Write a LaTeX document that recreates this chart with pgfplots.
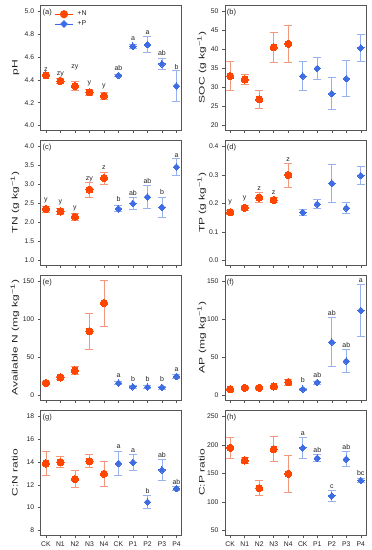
\documentclass[border=0pt]{standalone}
\usepackage{fontspec}
\setmainfont{Liberation Sans}
\usepackage{graphicx}
\usepackage{pgfplots}
\pgfplotsset{compat=1.18}
\definecolor{nred}{HTML}{FF4500}
\definecolor{nerrc}{HTML}{F5977A}
\definecolor{pblue}{HTML}{3D6CE5}
\definecolor{perrc}{HTML}{98B2F0}
\definecolor{axc}{HTML}{555555}
\definecolor{txt}{HTML}{222222}
\newcommand{\tickfont}{\fontsize{6.8}{8}\selectfont}
\newcommand{\labfont}{\fontsize{8}{9.6}\selectfont}
\newcommand{\letfont}{\fontsize{7}{8.4}\selectfont}
\newcommand{\panfont}{\fontsize{7.5}{9}\selectfont}
\newcommand{\yl}[1]{\scalebox{1.5}[1]{#1}}
\pgfplotsset{
  panel/.style={
    width=141pt, height=125pt, scale only axis, anchor=south west,
    xmin=-0.36, xmax=9.36, xtick={0,...,9}, xticklabels={},
    axis line style={axc, line width=0.5pt},
    tick style={axc, line width=0.5pt},
    tick align=outside, major tick length=3pt,
    xtick pos=left, ytick pos=left,
    tick label style={font=\tickfont, text=txt},
    /pgf/number format/assume math mode=true,
    clip=false,
  },
  leftcol/.style={ylabel style={at={(axis description cs:-0.163,0.5)}, rotate=0, anchor=base, font=\labfont, text=txt}},
  rightcol/.style={ylabel style={at={(axis description cs:-0.145,0.5)}, rotate=0, anchor=base, font=\labfont, text=txt}},
  dec1/.style={yticklabel style={/pgf/number format/.cd, fixed, fixed zerofill, precision=1}},
  nerr/.style={only marks, mark=none, forget plot, error bars/.cd, y dir=both, y explicit,
    error bar style={draw=nerrc, line width=0.8pt},
    error mark options={rotate=90, draw=nerrc, mark size=4pt, line width=0.8pt}},
  perr/.style={only marks, mark=none, forget plot, error bars/.cd, y dir=both, y explicit,
    error bar style={draw=perrc, line width=0.8pt},
    error mark options={rotate=90, draw=perrc, mark size=4pt, line width=0.8pt}},
  nmark/.style={only marks, forget plot, mark=*, mark size=3.6pt, mark options={draw=nred, fill=nred, line width=0pt}},
  pmark/.style={only marks, forget plot, mark=square*, mark size=2.3pt, mark options={rotate=45, draw=pblue, fill=pblue, line width=0pt}},
  letters/.style={only marks, mark=none, forget plot, nodes near coords, point meta=explicit symbolic,
    every node near coord/.append style={font=\letfont, text=txt, inner sep=0pt, text depth=0pt}},
}
\newcommand{\plab}[1]{\node[anchor=north west, font=\panfont, text=txt, inner sep=0pt] at (axis description cs:0.012,0.972) {#1};}
\begin{document}
\begin{tikzpicture}
\useasboundingbox (0,0) rectangle (372pt,550pt);
% (a) pH
\begin{axis}[panel, leftcol, dec1, at={(40.7pt,420pt)}, ymin=3.96, ymax=5.057, ytick={4.0,4.2,...,5.01}, ylabel={\yl{pH}},
  legend style={at={(axis description cs:0.1,0.965)}, anchor=north west, draw=none, fill=none, font=\letfont, text=txt, inner sep=0pt, row sep=0.5pt, nodes={inner sep=1.5pt}},
  legend cell align=left]
\addlegendimage{nred, line width=0.9pt, mark=*, mark size=3.6pt, mark options={fill=nred, draw=nred}}
\addlegendentry{\hspace{3pt}+N}
\addlegendimage{pblue, line width=0.9pt, mark=square*, mark size=2.3pt, mark options={rotate=45, fill=pblue, draw=pblue}}
\addlegendentry{\hspace{3pt}+P}
\addplot[nerr] table[x=x, y=y, y error=e] {
x y e
0 4.44 0.012
1 4.39 0.02
2 4.346 0.04
3 4.29 0.03
4 4.26 0.03
};
\addplot[nmark] table[x=x, y=y] {
x y
0 4.44
1 4.39
2 4.346
3 4.29
4 4.26
};
\addplot[perr] table[x=x, y=y, y error=e] {
x y e
5 4.44 0.012
6 4.695 0.015
7 4.71 0.07
8 4.54 0.05
9 4.346 0.135
};
\addplot[pmark] table[x=x, y=y] {
x y
5 4.44
6 4.695
7 4.71
8 4.54
9 4.346
};
\addplot[letters] table[x=x, y=y, meta=l] {
x y l
0 4.475 z
1 4.44 zy
2 4.496 zy
3 4.355 y
4 4.334 y
5 4.48 ab
6 4.74 a
7 4.80 a
8 4.613 ab
9 4.49 b
};
\plab{(a)}
\end{axis}
% (b) SOC
\begin{axis}[panel, rightcol, at={(225pt,420pt)}, ymin=18.8, ymax=51.71, ytick={20,25,...,50}, ylabel={\yl{SOC (g kg\textsuperscript{−1})}}]
\addplot[nerr] table[x=x, y=y, y error=e] {
x y e
0 33.0 3.8
1 32.1 1.3
2 26.9 2.4
3 40.6 4.0
4 41.5 4.9
};
\addplot[nmark] table[x=x, y=y] {
x y
0 33.0
1 32.1
2 26.9
3 40.6
4 41.5
};
\addplot[perr] table[x=x, y=y, y error=e] {
x y e
5 33.0 3.8
6 35.0 2.85
7 28.4 4.2
8 32.3 4.7
9 40.4 3.6
};
\addplot[pmark] table[x=x, y=y] {
x y
5 33.0
6 35.0
7 28.4
8 32.3
9 40.4
};
\plab{(b)}
\end{axis}
% (c) TN
\begin{axis}[panel, leftcol, dec1, at={(40.7pt,285pt)}, ymin=0.88, ymax=4.171, ytick={1.0,1.5,...,4.01}, ylabel={\yl{TN (g kg\textsuperscript{−1})}}]
\addplot[nerr] table[x=x, y=y, y error=e] {
x y e
0 2.355 0.08
1 2.29 0.08
2 2.15 0.1
3 2.865 0.2
4 3.17 0.155
};
\addplot[nmark] table[x=x, y=y] {
x y
0 2.355
1 2.29
2 2.15
3 2.865
4 3.17
};
\addplot[perr] table[x=x, y=y, y error=e] {
x y e
5 2.36 0.08
6 2.50 0.15
7 2.67 0.3
8 2.40 0.27
9 3.46 0.225
};
\addplot[pmark] table[x=x, y=y] {
x y
5 2.36
6 2.50
7 2.67
8 2.40
9 3.46
};
\addplot[letters] table[x=x, y=y, meta=l] {
x y l
0 2.548 y
1 2.50 y
2 2.337 y
3 3.10 zy
4 3.384 z
5 2.548 b
6 2.698 ab
7 3.015 ab
8 2.72 b
9 3.718 a
};
\plab{(c)}
\end{axis}
% (d) TP
\begin{axis}[panel, rightcol, dec1, at={(225pt,285pt)}, ymin=-0.016, ymax=0.4228, ytick={0,0.1,...,0.41}, ylabel={\yl{TP (g kg\textsuperscript{−1})}}]
\addplot[nerr] table[x=x, y=y, y error=e] {
x y e
0 0.169 0.008
1 0.185 0.008
2 0.2205 0.018
3 0.212 0.008
4 0.30 0.042
};
\addplot[nmark] table[x=x, y=y] {
x y
0 0.169
1 0.185
2 0.2205
3 0.212
4 0.30
};
\addplot[perr] table[x=x, y=y, y error=e] {
x y e
5 0.169 0.01
6 0.198 0.017
7 0.271 0.067
8 0.184 0.02
9 0.298 0.032
};
\addplot[pmark] table[x=x, y=y] {
x y
5 0.169
6 0.198
7 0.271
8 0.184
9 0.298
};
\addplot[letters] table[x=x, y=y, meta=l] {
x y l
0 0.1994 y
1 0.212 y
2 0.2463 z
3 0.23 z
4 0.347 z
};
\plab{(d)}
\end{axis}
% (e) Available N
\begin{axis}[panel, leftcol, at={(40.7pt,150pt)}, ymin=-6, ymax=158.55, ytick={0,50,100,150}, ylabel={\yl{Available N (mg kg\textsuperscript{−1})}}]
\addplot[nerr] table[x=x, y=y, y error=e] {
x y e
0 16.2 2
1 23.7 2
2 32.9 5.5
3 84.6 23.7
4 121.5 30
};
\addplot[nmark] table[x=x, y=y] {
x y
0 16.2
1 23.7
2 32.9
3 84.6
4 121.5
};
\addplot[perr] table[x=x, y=y, y error=e] {
x y e
5 16.2 2
6 11.4 2
7 11.0 2
8 10.5 2
9 25.0 3
};
\addplot[pmark] table[x=x, y=y] {
x y
5 16.2
6 11.4
7 11.0
8 10.5
9 25.0
};
\addplot[letters] table[x=x, y=y, meta=l] {
x y l
5 23.7 a
6 18.4 b
7 18.0 b
8 18.0 b
9 31.6 a
};
\plab{(e)}
\end{axis}
% (f) AP
\begin{axis}[panel, rightcol, at={(225pt,150pt)}, ymin=-6, ymax=158.55, ytick={0,50,100,150}, ylabel={\yl{AP (mg kg\textsuperscript{−1})}}]
\addplot[nerr] table[x=x, y=y, y error=e] {
x y e
0 8.3 1.5
1 10.1 1.5
2 10.1 1.5
3 11.8 2
4 17.5 4
};
\addplot[nmark] table[x=x, y=y] {
x y
0 8.3
1 10.1
2 10.1
3 11.8
4 17.5
};
\addplot[perr] table[x=x, y=y, y error=e] {
x y e
5 8.3 1.5
6 17.1 2
7 70.2 32.5
8 45.2 15.4
9 111.8 34.4
};
\addplot[pmark] table[x=x, y=y] {
x y
5 8.3
6 17.1
7 70.2
8 45.2
9 111.8
};
\addplot[letters] table[x=x, y=y, meta=l] {
x y l
5 17.1 b
6 23.2 ab
7 105.3 ab
8 63.0 ab
9 148.2 a
};
\plab{(f)}
\end{axis}
% (g) C:N ratio
\begin{axis}[panel, leftcol, at={(40.7pt,15pt)}, ymin=7.6, ymax=18.57, ytick={8,10,...,18}, ylabel={\yl{C:N ratio}},
  xticklabels={CK,N1,N2,N3,N4,CK,P1,P2,P3,P4}]
\addplot[nerr] table[x=x, y=y, y error=e] {
x y e
0 13.88 1.08
1 14.0 0.5
2 12.5 0.73
3 14.08 0.57
4 12.97 1.1
};
\addplot[nmark] table[x=x, y=y] {
x y
0 13.88
1 14.0
2 12.5
3 14.08
4 12.97
};
\addplot[perr] table[x=x, y=y, y error=e] {
x y e
5 13.88 1.08
6 13.97 0.72
7 10.49 0.57
8 13.32 0.9
9 11.68 0.15
};
\addplot[pmark] table[x=x, y=y] {
x y
5 13.88
6 13.97
7 10.49
8 13.32
9 11.68
};
\addplot[letters] table[x=x, y=y, meta=l] {
x y l
5 15.16 a
6 14.84 a
7 11.2 b
8 14.38 ab
9 12.0 ab
};
\plab{(g)}
\end{axis}
% (h) C:P ratio
\begin{axis}[panel, rightcol, at={(225pt,15pt)}, ymin=42, ymax=261.4, ytick={50,100,...,250}, ylabel={\yl{C:P ratio}},
  xticklabels={CK,N1,N2,N3,N4,CK,P1,P2,P3,P4}]
\addplot[nerr] table[x=x, y=y, y error=e] {
x y e
0 195 19
1 172.8 6
2 124.3 13
3 192.7 21.6
4 149.4 32.5
};
\addplot[nmark] table[x=x, y=y] {
x y
0 195
1 172.8
2 124.3
3 192.7
4 149.4
};
\addplot[perr] table[x=x, y=y, y error=e] {
x y e
5 195 19
6 176.9 6
7 110.8 9.5
8 175 13
9 137.7 3
};
\addplot[pmark] table[x=x, y=y] {
x y
5 195
6 176.9
7 110.8
8 175
9 137.7
};
\addplot[letters] table[x=x, y=y, meta=l] {
x y l
5 217 a
6 186 ab
7 122.5 c
8 191 ab
9 146.5 bc
};
\plab{(h)}
\end{axis}
\end{tikzpicture}
\end{document}
